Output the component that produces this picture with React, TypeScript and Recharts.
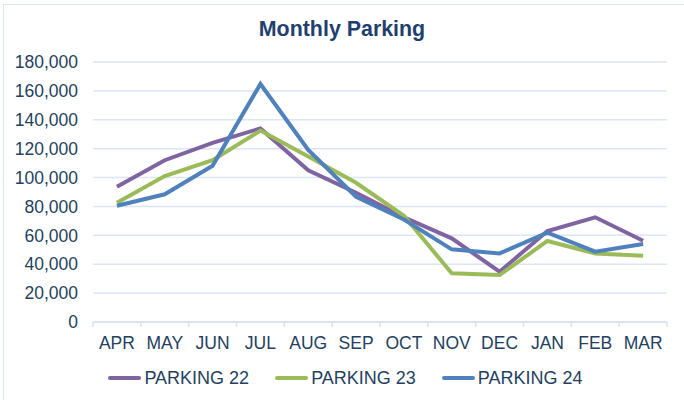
import React from 'react';
import { LineChart, Line, XAxis, YAxis, CartesianGrid, Legend } from 'recharts';

const months = ['APR', 'MAY', 'JUN', 'JUL', 'AUG', 'SEP', 'OCT', 'NOV', 'DEC', 'JAN', 'FEB', 'MAR'];
const parking22 = [93700, 112000, 124000, 134000, 105000, 89500, 72500, 57900, 34800, 63000, 72500, 56300];
const parking23 = [82600, 101000, 112000, 132500, 114500, 96400, 73500, 33700, 32500, 56100, 47500, 45900];
const parking24 = [80500, 88400, 108200, 164800, 119100, 86700, 71000, 50300, 47500, 61800, 48700, 54000];
const yTicks = [0, 20000, 40000, 60000, 80000, 100000, 120000, 140000, 160000, 180000];

const SERIES = [
  { key: 'p22', name: 'PARKING 22', color: '#8064A2' },
  { key: 'p23', name: 'PARKING 23', color: '#9BBB59' },
  { key: 'p24', name: 'PARKING 24', color: '#4F81BD' },
];

const data = months.map((m, i) => ({ month: m, p22: parking22[i], p23: parking23[i], p24: parking24[i] }));

const TEXT = '#243F60';
const FONT = 'Arial, "Liberation Sans", sans-serif';

const MonthTick = (props: any) => {
  const { x, y, payload, index } = props;
  const half = payload.offset || 23.9;
  return (
    <g>
      <line x1={x - half} y1={y} x2={x - half} y2={y + 5} stroke="#D5E1F0" strokeWidth={1.5} />
      {index === months.length - 1 && (
        <line x1={x + half} y1={y} x2={x + half} y2={y + 5} stroke="#D5E1F0" strokeWidth={1.5} />
      )}
      <text x={x} y={y + 27} textAnchor="middle" fill={TEXT} fontSize={17.5} fontFamily={FONT}>
        {payload.value}
      </text>
    </g>
  );
};

const LegendBox = (props: any) => (
  <div style={{ display: 'flex', justifyContent: 'center', alignItems: 'center', height: 24, paddingLeft: 50 }}>
    {props.payload.map((p: any) => (
      <div key={p.value} style={{ display: 'flex', alignItems: 'center', marginRight: 26 }}>
        <div style={{ width: 33, height: 4, background: p.color, borderRadius: 2, marginRight: 3 }} />
        <span style={{ color: TEXT, fontSize: 18, fontFamily: FONT }}>{p.value}</span>
      </div>
    ))}
  </div>
);

const App: React.FC = () => (
  <div style={{ position: 'absolute', left: 0, top: 0, width: 684, height: 400, background: '#fff' }}>
    <div style={{ position: 'absolute', left: 3, top: 4, width: 700, height: 420, border: '1px solid #DCE6F2' }} />
    <div style={{ position: 'absolute', left: 0, top: 17, width: 684, textAlign: 'center', color: '#1F3F6E', fontFamily: FONT, fontWeight: 'bold', fontSize: 21.4 }}>
      Monthly Parking
    </div>
    <div style={{ position: 'absolute', left: 0, top: 0 }}>
      <LineChart width={684} height={400} data={data} margin={{ top: 62, right: 17, bottom: 10, left: 0 }}>
        <CartesianGrid vertical={false} stroke="#DCE6F2" strokeWidth={1.5} />
        <XAxis
          dataKey="month"
          scale="band"
          height={44}
          tickLine={false}
          tickSize={0}
          tickMargin={0}
          axisLine={{ stroke: '#D5E1F0', strokeWidth: 1.5 }}
          tick={<MonthTick />}
          interval={0}
        />
        <YAxis
          width={93}
          domain={[0, 180000]}
          ticks={yTicks}
          axisLine={false}
          tickLine={false}
          tickMargin={9}
          tick={{ fill: TEXT, fontSize: 17.5, fontFamily: FONT }}
          tickFormatter={(v: number) => v.toLocaleString('en-US')}
        />
        <Legend verticalAlign="bottom" height={24} content={<LegendBox />} />
        {SERIES.map((s) => (
          <Line
            key={s.key}
            type="linear"
            dataKey={s.key}
            name={s.name}
            stroke={s.color}
            strokeWidth={4}
            dot={false}
            activeDot={false}
            isAnimationActive={false}
          />
        ))}
      </LineChart>
    </div>
  </div>
);

export default App;
